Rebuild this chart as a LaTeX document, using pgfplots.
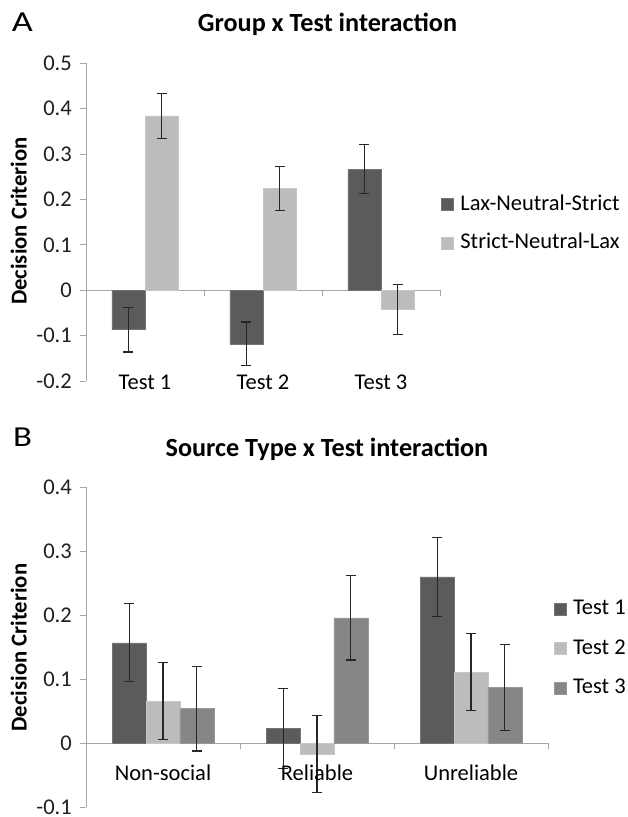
\documentclass[border=0pt]{standalone}
\usepackage{fontspec}
\setmainfont{Carlito}
\usepackage{pgfplots}
\pgfplotsset{compat=1.18}
\definecolor{cdark}{HTML}{5B5B5B}
\definecolor{clight}{HTML}{BCBCBC}
\definecolor{cmid}{HTML}{868686}
\definecolor{axgray}{HTML}{A6A6A6}
\definecolor{errc}{HTML}{262626}
\newcommand\fbody{\fontsize{22.5pt}{27pt}\selectfont}
\newcommand\ftitle{\fontsize{26.2pt}{30pt}\selectfont\bfseries}
\pgfplotsset{
 excel/.style={
  scale only axis, clip=false,
  xmin=-0.5, xmax=2.5,
  axis y line*=left, axis x line*=middle,
  xtick={0.5,1.5,2.5}, xticklabels={},
  tick align=outside, major tick length=6pt,
  tick style={axgray, line width=0.8pt},
  axis line style={axgray, line width=0.8pt},
  yticklabel style={font=\fbody, text=black!88, inner xsep=0pt, inner ysep=0pt, xshift=-8pt},
  ybar=0pt,
  error bars/y dir=both, error bars/y explicit,
  error bars/error mark=|,
  error bars/error bar style={errc, line width=1.2pt},
  error bars/error mark options={errc, line width=1.2pt, mark size=5pt},
  legend style={draw=none, fill=none, font=\fbody, inner sep=0pt,
    nodes={inner xsep=7pt, inner ysep=0pt, text height=16pt, text depth=5pt}},
  legend cell align=left,
  legend image code/.code={\fill[##1] (0pt,-6pt) rectangle (12pt,6pt);},
 }
}
\begin{document}
\begin{tikzpicture}
\path[use as bounding box] (0,0) rectangle (627pt,817pt);
% Panel A
\node[anchor=base west, inner sep=0pt, font=\fontsize{29pt}{32pt}\selectfont, xscale=1.25, transform shape] at (11.7pt,785.3pt) {A};
\node[anchor=base, font=\ftitle] at (327.5pt,785pt) {Group x Test interaction};
\node[anchor=base, rotate=90, font=\fontsize{22.7pt}{27pt}\selectfont\bfseries] at (26.7pt,596pt) {Decision Criterion};
\begin{axis}[excel,
  at={(86pt,436pt)}, anchor=south west,
  width=354pt, height=317.7pt,
  ymin=-0.2, ymax=0.5,
  ytick={-0.2,-0.1,0,0.1,0.2,0.3,0.4,0.5},
  yticklabels={-0.2,-0.1,0,0.1,0.2,0.3,0.4,0.5},
  bar width=0.28,
  legend style={at={(axis description cs:1.002,0.5886)}, anchor=north west, row sep=17.5pt},
]
\addplot[fill=cdark, draw=cdark!85!white, line width=0.5pt] coordinates {
 (0,-0.087) +- (0,0.049)
 (1,-0.118) +- (0,0.048)
 (2,0.267) +- (0,0.054)
};
\addplot[fill=clight, draw=clight!85!white, line width=0.5pt] coordinates {
 (0,0.384) +- (0,0.049)
 (1,0.224) +- (0,0.049)
 (2,-0.043) +- (0,0.055)
};
\legend{Lax-Neutral-Strict,Strict-Neutral-Lax}
\node[anchor=base, font=\fbody] at (axis cs:0,-0.2187) {Test 1};
\node[anchor=base, font=\fbody] at (axis cs:1,-0.2187) {Test 2};
\node[anchor=base, font=\fbody] at (axis cs:2,-0.2187) {Test 3};
\end{axis}
% Panel B
\node[anchor=base west, inner sep=0pt, font=\fontsize{29pt}{32pt}\selectfont, xscale=1.2, transform shape] at (13pt,370.3pt) {B};
\node[anchor=base, font=\ftitle] at (327pt,360.3pt) {Source Type x Test interaction};
\node[anchor=base, rotate=90, font=\fontsize{22.7pt}{27pt}\selectfont\bfseries] at (26.7pt,169.5pt) {Decision Criterion};
\begin{axis}[excel,
  at={(86pt,9.7pt)}, anchor=south west,
  width=462pt, height=320pt,
  ymin=-0.1, ymax=0.4,
  ytick={-0.1,0,0.1,0.2,0.3,0.4},
  yticklabels={-0.1,0,0.1,0.2,0.3,0.4},
  bar width=0.22,
  legend style={at={(axis description cs:1.0115,0.653)}, anchor=north west, row sep=18.7pt},
]
\addplot[fill=cdark, draw=cdark!85!white, line width=0.5pt] coordinates {
 (0,0.157) +- (0,0.061)
 (1,0.023) +- (0,0.062)
 (2,0.260) +- (0,0.062)
};
\addplot[fill=clight, draw=clight!85!white, line width=0.5pt] coordinates {
 (0,0.066) +- (0,0.060)
 (1,-0.017) +- (0,0.060)
 (2,0.111) +- (0,0.060)
};
\addplot[fill=cmid, draw=cmid!85!white, line width=0.5pt] coordinates {
 (0,0.054) +- (0,0.066)
 (1,0.196) +- (0,0.066)
 (2,0.087) +- (0,0.067)
};
\legend{Test 1,Test 2,Test 3}
\node[anchor=base, font=\fbody] at (axis cs:0,-0.0589) {Non-social};
\node[anchor=base, font=\fbody] at (axis cs:1,-0.0589) {Reliable};
\node[anchor=base, font=\fbody] at (axis cs:2,-0.0589) {Unreliable};
\end{axis}
\end{tikzpicture}
\end{document}
